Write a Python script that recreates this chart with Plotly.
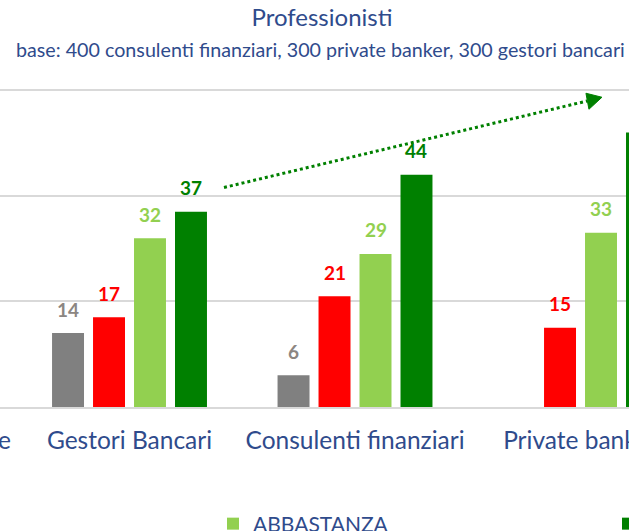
import plotly.graph_objects as go

# ---------------- data ----------------
categories = ["Media delle tre figure", "Gestori Bancari", "Consulenti finanziari", "Private banker"]
series_names = ["NON SO", "POCO", "ABBASTANZA", "MOLTO"]
non_so = [None, 14, 6, None]
poco = [None, 17, 21, 15]
abbastanza = [None, 32, 29, 33]
molto = [None, 37, 44, 52]
y_ticks = [0, 20, 40, 60]

series_values = [non_so, poco, abbastanza, molto]
bar_colors = ["#808080", "#FF0000", "#92D050", "#008000"]
label_colors = ["#8C8682", "#FF0000", "#92D050", "#008000"]

W, H = 629, 531
FONT = "Lato"
TEXT_BLUE = "#2F4B8C"
BARGAP = 0.273
BARGROUPGAP = 0.22
X_RANGE = [0.4257, 3.215]
TICK_FONT = dict(family=FONT, size=24.5, color=TEXT_BLUE)

fig = go.Figure()
for i, (name, vals) in enumerate(zip(series_names, series_values)):
    fig.add_trace(go.Bar(
        x=categories, y=vals, name=name,
        marker=dict(color=bar_colors[i], line=dict(width=0)),
        legend="legend" if i == 0 else f"legend{i+1}",
        showlegend=i >= 2,
        hoverinfo="skip",
    ))

# value labels above bars
slot = (1 - BARGAP) / len(series_names)
annotations = []
for i, vals in enumerate(series_values):
    for ci, v in enumerate(vals):
        if v is None:
            continue
        annotations.append(dict(
            x=ci + (i - (len(series_names) - 1) / 2) * slot, y=v,
            xref="x", yref="y", text=f"<b>{v}</b>", showarrow=False,
            yanchor="middle", yshift=24,
            font=dict(family=FONT, size=19, color=label_colors[i]),
        ))

# first category label (its tick lies left of the visible range; only its tail shows)
annotations.append(dict(
    x=13 / W, y=(407 - 440) / 343, xref="paper", yref="paper",
    text=categories[0], showarrow=False, xanchor="right", yanchor="middle",
    font=TICK_FONT,
))

# subtitle
annotations.append(dict(
    x=320 / W, y=(407 - 50) / 343, xref="paper", yref="paper",
    text="base: 400 consulenti finanziari, 300 private banker, 300 gestori bancari",
    showarrow=False, xanchor="center", yanchor="middle",
    font=dict(family=FONT, size=19.7, color=TEXT_BLUE),
))

# dotted trend arrow
shapes = [
    dict(type="line", xref="x", yref="y", x0=1.419, y0=41.6, x1=3.03, y1=58.0,
         line=dict(color="#008000", width=3, dash="dot")),
    dict(type="path", xref="x", yref="y", xsizemode="pixel", ysizemode="pixel",
         xanchor=3.095, yanchor=58.7,
         path="M0,0 L-16,4 L-13,-12 Z",
         fillcolor="#008000", line=dict(color="#008000", width=1)),
]

legend_x_px = [213 - 2 * 393, 213 - 393, 213, 608]
legend_layouts = {}
for i, px in enumerate(legend_x_px):
    key = "legend" if i == 0 else f"legend{i+1}"
    legend_layouts[key] = dict(
        x=px / W, y=(407 - 524) / 343, xanchor="left", yanchor="middle",
        orientation="h", bgcolor="rgba(0,0,0,0)",
        font=dict(family=FONT, size=21, color=TEXT_BLUE),
    )

fig.update_layout(
    width=W, height=H,
    margin=dict(l=0, r=0, t=64, b=124, autoexpand=False),
    paper_bgcolor="white", plot_bgcolor="white",
    barmode="group", bargap=BARGAP, bargroupgap=BARGROUPGAP,
    title=dict(text="Professionisti", x=322 / W, xanchor="center", xref="container",
               y=1 - 18 / H, yanchor="middle", yref="container",
               font=dict(family=FONT, size=24, color=TEXT_BLUE)),
    xaxis=dict(type="category", range=X_RANGE, showgrid=False,
               showline=True, linecolor="#D9D9D9", linewidth=2,
               ticks="", ticklabelstandoff=11, tickfont=TICK_FONT),
    yaxis=dict(range=[0, 65], tickvals=y_ticks, showticklabels=False,
               showgrid=True, gridcolor="#D9D9D9", gridwidth=1.5,
               zeroline=False),
    annotations=annotations,
    shapes=shapes,
    showlegend=True,
    **legend_layouts,
)

fig.write_html(
    "out.html",
    config={"displayModeBar": False},
    post_script="document.body.style.margin='0';document.body.style.overflow='hidden';",
)
